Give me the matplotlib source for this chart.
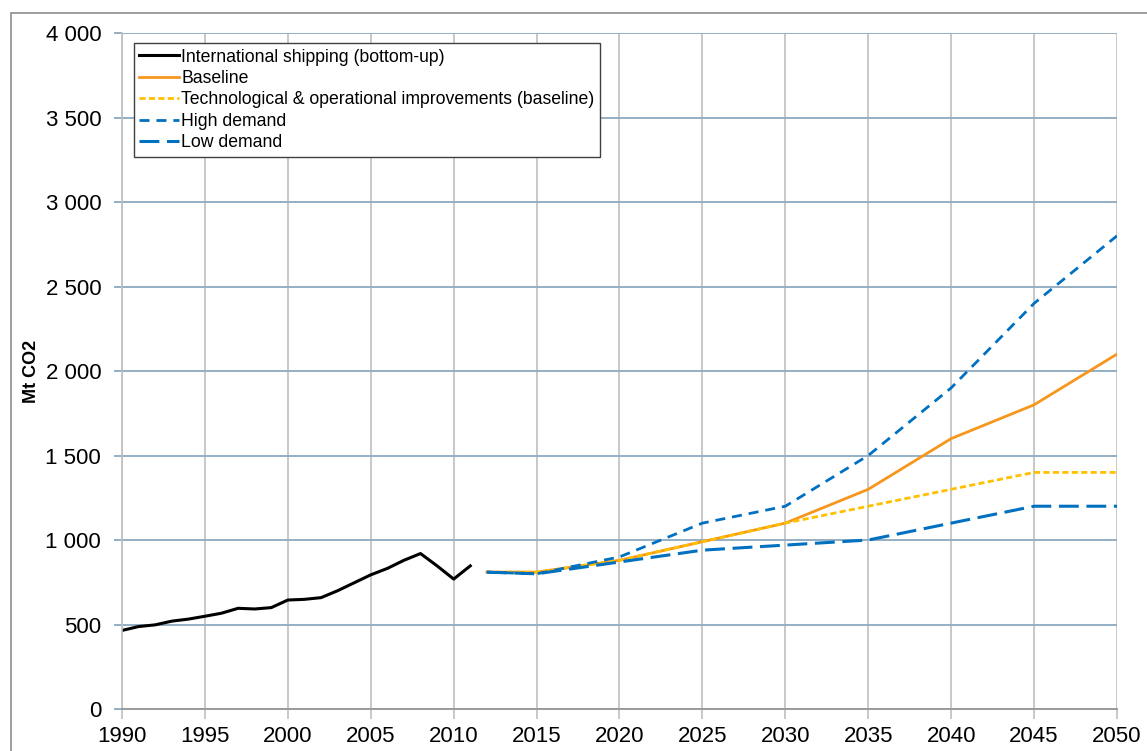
import matplotlib.pyplot as plt
from matplotlib.patches import Rectangle
from matplotlib.ticker import FuncFormatter

plt.rcParams['font.family'] = ['Liberation Sans', 'DejaVu Sans']

hist_years = list(range(1990, 2012))
hist_co2 = [465, 488, 498, 520, 532, 549, 567, 596, 592, 600, 645, 649,
            659, 700, 747, 794, 832, 880, 920, 847, 769, 847]

proj_years = [2012, 2015, 2020, 2025, 2030, 2035, 2040, 2045, 2050]
baseline = [810, 810, 880, 990, 1100, 1300, 1600, 1800, 2100]
tech_ops = [810, 810, 880, 990, 1100, 1200, 1300, 1400, 1400]
high_demand = [810, 800, 900, 1100, 1200, 1500, 1900, 2400, 2800]
low_demand = [810, 800, 870, 940, 970, 1000, 1100, 1200, 1200]

fig = plt.figure(figsize=(11.47, 7.51), dpi=100)
ax = fig.add_axes([0.1064, 0.0559, 0.8674, 0.9001])

# frame around the figure
fig.patches.append(Rectangle((11 / 1147, -0.1), 1.2, 1 - 13 / 751 + 0.1,
                             transform=fig.transFigure, fill=False,
                             edgecolor='#8c8c8c', linewidth=1.2))

ax.plot(hist_years, hist_co2, color='black', linewidth=2.2,
        label='International shipping (bottom-up)')
ax.plot(proj_years, baseline, color='#f7961c', linewidth=2.0, label='Baseline')
ax.plot(proj_years, tech_ops, color='#ffc000', linewidth=2.0, linestyle=(0, (2.2, 1.2)),
        label='Technological & operational improvements (baseline)')
ax.plot(proj_years, high_demand, color='#0070c0', linewidth=2.0, linestyle=(0, (3.6, 2.5)),
        label='High demand')
ax.plot(proj_years, low_demand, color='#0070c0', linewidth=2.2, linestyle=(0, (6.5, 2.5)),
        label='Low demand')

ax.set_xlim(1990, 2050)
ax.set_ylim(0, 4000)
ax.set_xticks(range(1990, 2051, 5))
ax.set_yticks(range(0, 4001, 500))
ax.yaxis.set_major_formatter(FuncFormatter(lambda v, p: f'{int(v):,}'.replace(',', ' ')))
ax.tick_params(axis='x', labelsize=16, length=7, width=1.2, color='#bfbfbf', pad=5)
ax.tick_params(axis='y', labelsize=16, length=6, width=1.4, color='#94aec4', pad=9)

ax.xaxis.grid(True, color='#bfbfbf', linewidth=1.2)
ax.yaxis.grid(True, color='#94aec4', linewidth=1.4)
for s in ['top', 'right']:
    ax.spines[s].set_visible(False)
ax.spines['left'].set_color('#bfbfbf')
ax.spines['left'].set_linewidth(1.2)
ax.spines['bottom'].set_color('#9a9a9a')
ax.spines['bottom'].set_linewidth(1.4)

ax.set_ylabel('Mt CO2', fontsize=13, fontweight='bold', labelpad=4)

leg = ax.legend(loc='upper left', bbox_to_anchor=(0.008, 0.99), fontsize=12.7,
                frameon=True, fancybox=False, edgecolor='#404040', framealpha=1,
                handlelength=2.3, handletextpad=0.1, borderpad=0.3, labelspacing=0.25,
                borderaxespad=0.2)
leg.get_frame().set_linewidth(1.0)

fig.savefig('out.png', dpi=100)
